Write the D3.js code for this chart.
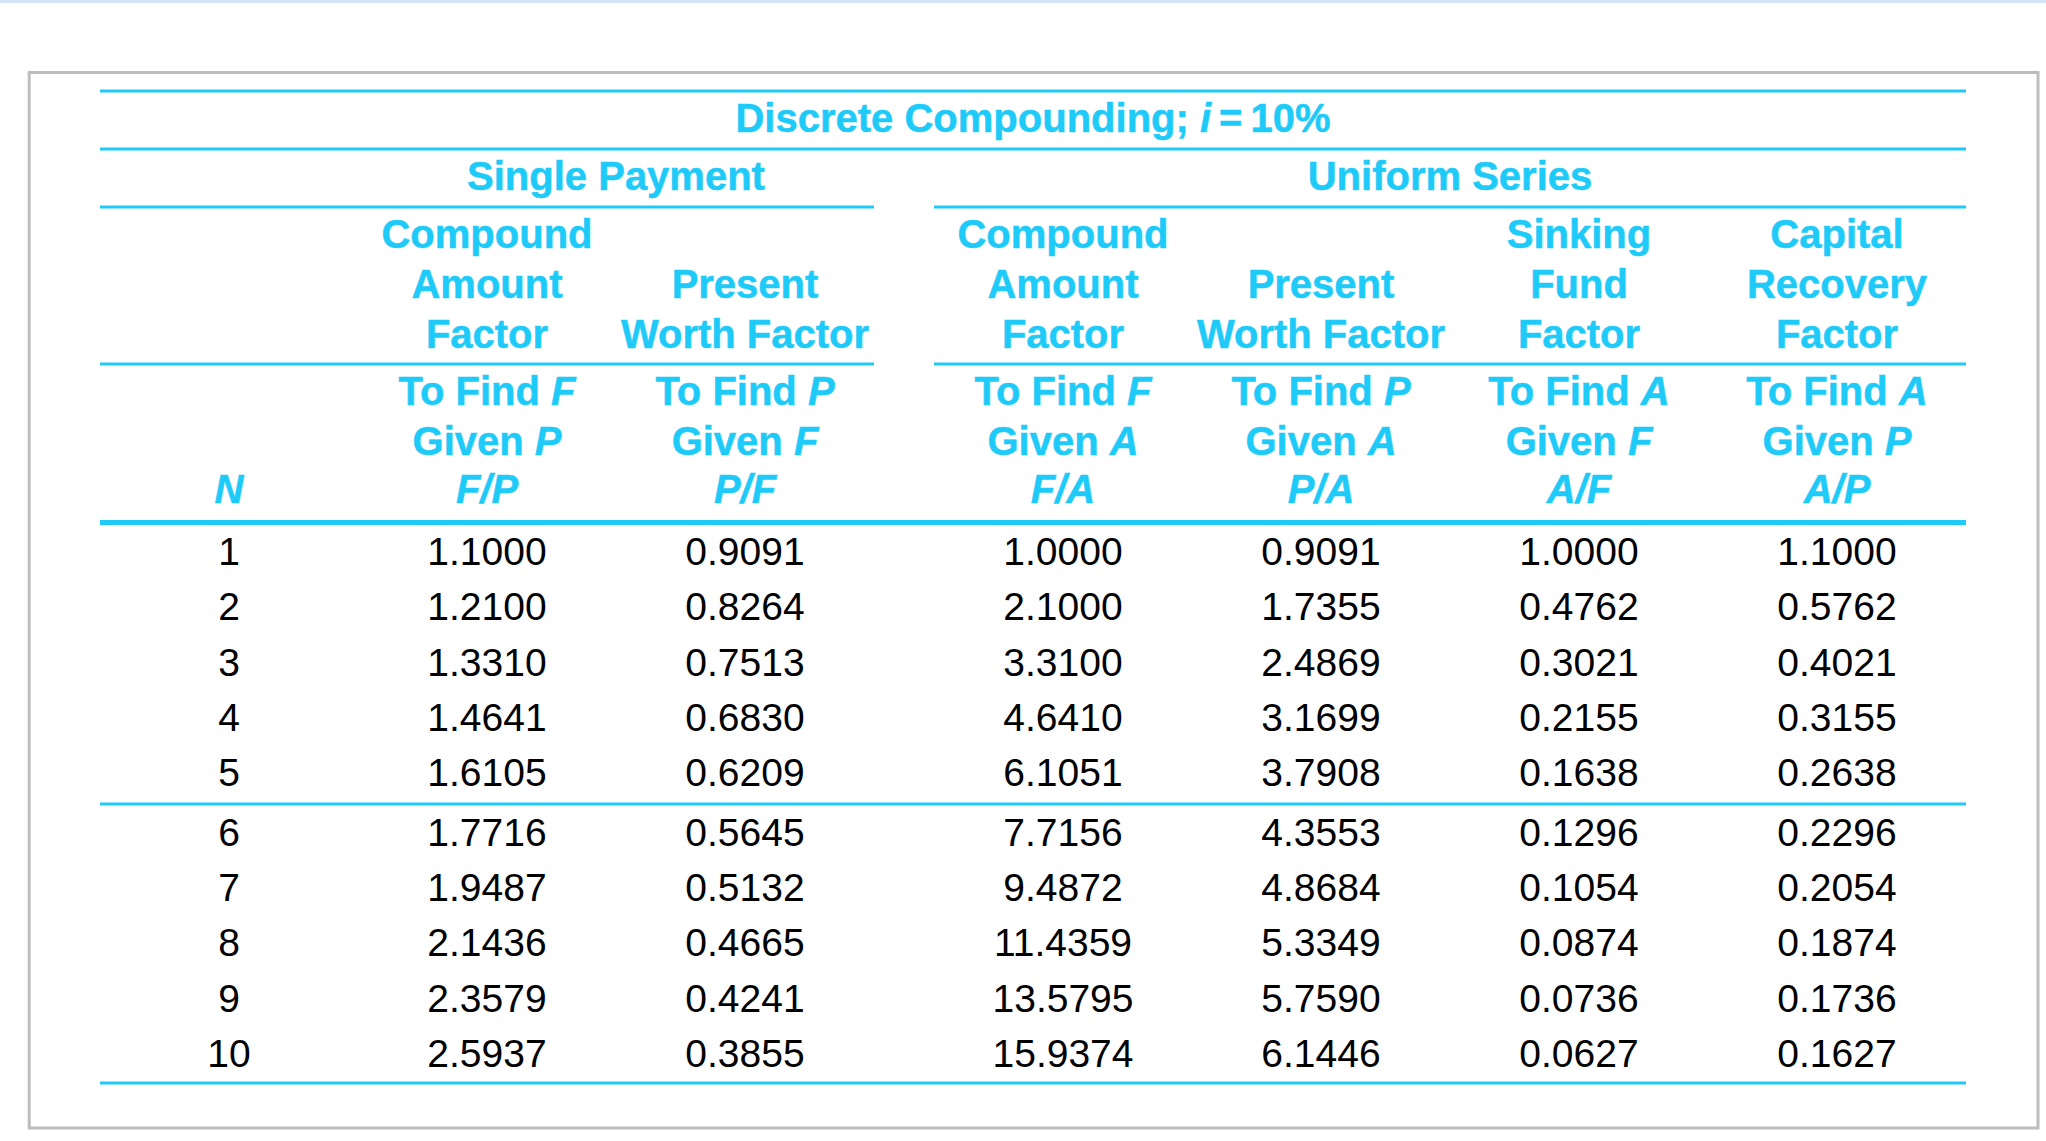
<!DOCTYPE html>
<html>
<head>
<meta charset="utf-8">
<script src="https://cdn.jsdelivr.net/npm/d3@7"></script>
<style>
  body { margin: 0; background: #ffffff; }
  svg text { font-family: "Liberation Sans", Arial, Helvetica, sans-serif; }
</style>
</head>
<body>
<svg id="table"></svg>
<script>
const pageWidth = 2046;
const pageHeight = 1141;

const cyan = "#1ecbf8";
const frameGrey = "#bdbdbd";

// columns of the table
var leftCols = ["N", "F/P", "P/F"];
var rightCols = ["F/A", "P/A", "A/F", "A/P"];

var years = [1, 2, 3, 4, 5, 6, 7, 8, 9, 10];

// factor values, one array per column
var fp = [1.1000, 1.2100, 1.3310, 1.4641, 1.6105, 1.7716, 1.9487, 2.1436, 2.3579, 2.5937];
var pf = [0.9091, 0.8264, 0.7513, 0.6830, 0.6209, 0.5645, 0.5132, 0.4665, 0.4241, 0.3855];
var fa = [1.0000, 2.1000, 3.3100, 4.6410, 6.1051, 7.7156, 9.4872, 11.4359, 13.5795, 15.9374];
var pa = [0.9091, 1.7355, 2.4869, 3.1699, 3.7908, 4.3553, 4.8684, 5.3349, 5.7590, 6.1446];
var af = [1.0000, 0.4762, 0.3021, 0.2155, 0.1638, 0.1296, 0.1054, 0.0874, 0.0736, 0.0627];
var ap = [1.1000, 0.5762, 0.4021, 0.3155, 0.2638, 0.2296, 0.2054, 0.1874, 0.1736, 0.1627];

var titleText = [["Discrete Compounding; ", false], ["i", true], ["\u2009=\u200910%", false]];
var groupTitles = [
    { text: "Single Payment", cols: ["F/P", "P/F"] },
    { text: "Uniform Series", cols: ["F/A", "A/P"] }
];

// three header lines per column (names of the factors)
var factorNames = {
    "F/P": ["Compound", "Amount", "Factor"],
    "P/F": ["", "Present", "Worth Factor"],
    "F/A": ["Compound", "Amount", "Factor"],
    "P/A": ["", "Present", "Worth Factor"],
    "A/F": ["Sinking", "Fund", "Factor"],
    "A/P": ["Capital", "Recovery", "Factor"]
};

// "to find" lines, [text, italic] pieces
var findLabels = {
    "N":   [[], [], [["N", true]]],
    "F/P": [[["To Find ", false], ["F", true]], [["Given ", false], ["P", true]], [["F/P", true]]],
    "P/F": [[["To Find ", false], ["P", true]], [["Given ", false], ["F", true]], [["P/F", true]]],
    "F/A": [[["To Find ", false], ["F", true]], [["Given ", false], ["A", true]], [["F/A", true]]],
    "P/A": [[["To Find ", false], ["P", true]], [["Given ", false], ["A", true]], [["P/A", true]]],
    "A/F": [[["To Find ", false], ["A", true]], [["Given ", false], ["F", true]], [["A/F", true]]],
    "A/P": [[["To Find ", false], ["A", true]], [["Given ", false], ["P", true]], [["A/P", true]]]
};

var columnValues = { "F/P": fp, "P/F": pf, "F/A": fa, "P/A": pa, "A/F": af, "A/P": ap };

var svg = d3.select("#table")
    .attr("width", pageWidth)
    .attr("height", pageHeight);

//1. scales: two blocks of columns with a gap between them
var xLeft = d3.scaleBand().domain(leftCols).range([100, 874]);
var xRight = d3.scaleBand().domain(rightCols).range([934, 1966]);
var colX = c => leftCols.includes(c)
    ? xLeft(c) + xLeft.bandwidth() / 2
    : xRight(c) + xRight.bandwidth() / 2;

// data rows, second block of five sits a bit lower
var yRow = d3.scaleLinear().domain([0, 9]).range([565, 1063]);
var rowY = i => yRow(i) + (i >= 5 ? 4 : 0);

var fmt = d3.format(".4f");

//2. page decoration
svg.append("rect")
    .attr("x", 0).attr("y", 0)
    .attr("width", pageWidth).attr("height", 3)
    .attr("fill", "#d3e5f6");

svg.append("rect")
    .attr("x", 29.2).attr("y", 72.5)
    .attr("width", 2038 - 29.2).attr("height", 1128 - 72.5)
    .attr("fill", "#ffffff")
    .attr("stroke", frameGrey)
    .attr("stroke-width", 3);

//3. rules
var fullRules = [
    { y: 91, w: 3 }, { y: 149, w: 3 }, { y: 522.5, w: 5 }, { y: 804, w: 3 }, { y: 1083, w: 3 }
];
var splitRules = [207, 364];

svg.append("g").selectAll("line")
    .data(fullRules).enter().append("line")
    .attr("x1", xLeft.range()[0]).attr("x2", xRight.range()[1])
    .attr("y1", d => d.y).attr("y2", d => d.y)
    .attr("stroke", cyan)
    .attr("stroke-width", d => d.w);

var segments = [];
splitRules.forEach(y => {
    segments.push({ y: y, x1: xLeft.range()[0], x2: xLeft.range()[1] });
    segments.push({ y: y, x1: xRight.range()[0], x2: xRight.range()[1] });
});
svg.append("g").selectAll("line")
    .data(segments).enter().append("line")
    .attr("x1", d => d.x1).attr("x2", d => d.x2)
    .attr("y1", d => d.y).attr("y2", d => d.y)
    .attr("stroke", cyan)
    .attr("stroke-width", 3);

//4. header text (bold, a touch heavier than plain bold)
function richText(g, pieces, x, y) {
    var t = g.append("text")
        .attr("x", x).attr("y", y)
        .attr("text-anchor", "middle")
        .attr("fill", cyan)
        .attr("stroke", cyan)
        .attr("stroke-width", 0.5)
        .attr("font-size", 40)
        .attr("font-weight", "bold");
    pieces.forEach(p => {
        t.append("tspan")
            .attr("font-style", p[1] ? "italic" : "normal")
            .text(p[0]);
    });
    return t;
}

var header = svg.append("g");
richText(header, titleText, (xLeft.range()[0] + xRight.range()[1]) / 2, 132);

groupTitles.forEach(g => {
    var a = colX(g.cols[0]), b = colX(g.cols[1]);
    richText(header, [[g.text, false]], (a + b) / 2, 190);
});

var nameBaselines = [248, 298, 348];
Object.keys(factorNames).forEach(c => {
    factorNames[c].forEach((line, i) => {
        if (line) richText(header, [[line, false]], colX(c), nameBaselines[i]);
    });
});

var findBaselines = [405, 455, 503];
Object.keys(findLabels).forEach(c => {
    findLabels[c].forEach((pieces, i) => {
        if (pieces.length) richText(header, pieces, colX(c), findBaselines[i]);
    });
});

//5. body
var body = svg.append("g")
    .attr("font-size", 39)
    .attr("fill", "#000000")
    .attr("text-anchor", "middle");

body.selectAll("text.n")
    .data(years).enter().append("text")
    .attr("class", "n")
    .attr("x", colX("N"))
    .attr("y", (d, i) => rowY(i))
    .text(d => d);

Object.keys(columnValues).forEach(c => {
    body.selectAll("text.v" + c.replace("/", ""))
        .data(columnValues[c]).enter().append("text")
        .attr("class", "v" + c.replace("/", ""))
        .attr("x", colX(c))
        .attr("y", (d, i) => rowY(i))
        .text(d => fmt(d));
});
</script>
</body>
</html>
